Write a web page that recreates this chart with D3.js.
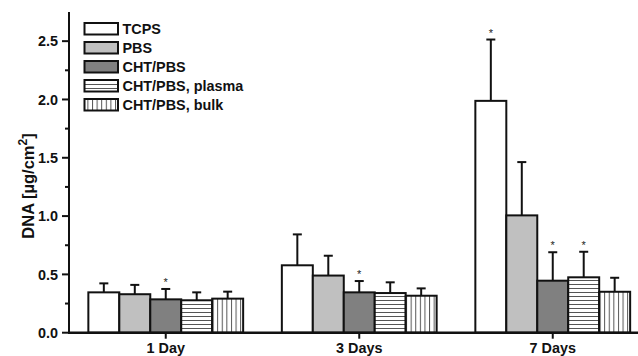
<!DOCTYPE html>
<html>
<head>
<meta charset="utf-8">
<script src="https://cdn.jsdelivr.net/npm/d3@7"></script>
<style>
  html, body { margin: 0; padding: 0; background: #fff; }
  svg { display: block; font-family: "Liberation Sans", Arial, sans-serif; font-weight: bold; }
</style>
</head>
<body>
<svg id="chart" width="638" height="356"></svg>
<script>
// DNA content per culture time and substrate
const days = ["1 Day", "3 Days", "7 Days"];
const groups = ["TCPS", "PBS", "CHT/PBS", "CHT/PBS, plasma", "CHT/PBS, bulk"];
const tcps       = [0.346, 0.578, 1.988];
const pbs        = [0.330, 0.490, 1.006];
const cht        = [0.286, 0.346, 0.446];
const chtPlasma  = [0.278, 0.340, 0.475];
const chtBulk    = [0.292, 0.317, 0.351];
const tcpsErr      = [0.077, 0.265, 0.526];
const pbsErr       = [0.080, 0.170, 0.457];
const chtErr       = [0.089, 0.097, 0.244];
const chtPlasmaErr = [0.068, 0.092, 0.219];
const chtBulkErr   = [0.060, 0.063, 0.120];
// significance markers (1 = asterisk)
const tcpsSig      = [0, 0, 1];
const pbsSig       = [0, 0, 0];
const chtSig       = [1, 1, 1];
const chtPlasmaSig = [0, 0, 1];
const chtBulkSig   = [0, 0, 0];
const yTicks = [0.0, 0.5, 1.0, 1.5, 2.0, 2.5];

const values = [tcps, pbs, cht, chtPlasma, chtBulk];
const errors = [tcpsErr, pbsErr, chtErr, chtPlasmaErr, chtBulkErr];
const sigs = [tcpsSig, pbsSig, chtSig, chtPlasmaSig, chtBulkSig];

const svg = d3.select("#chart");
const defs = svg.append("defs");

// stripe fills
const hp = defs.append("pattern").attr("id", "hstripe").attr("patternUnits", "userSpaceOnUse")
  .attr("width", 8).attr("height", 4);
hp.append("rect").attr("width", 8).attr("height", 4).attr("fill", "#fff");
hp.append("line").attr("x1", 0).attr("x2", 8).attr("y1", 0.5).attr("y2", 0.5)
  .attr("stroke", "#555").attr("stroke-width", 1);
const vp = defs.append("pattern").attr("id", "vstripe").attr("patternUnits", "userSpaceOnUse")
  .attr("width", 4.6).attr("height", 8);
vp.append("rect").attr("width", 4.6).attr("height", 8).attr("fill", "#fff");
vp.append("line").attr("x1", 0.5).attr("x2", 0.5).attr("y1", 0).attr("y2", 8)
  .attr("stroke", "#555").attr("stroke-width", 1);

const fills = ["#ffffff", "#c0c0c0", "#808080", "url(#hstripe)", "url(#vstripe)"];

const plotLeft = 69, plotBottom = 332.7, plotTop = 12;
const x0 = d3.scaleBand().domain(days).range([plotLeft, plotLeft + 580.5]).paddingInner(0.2).paddingOuter(0.1);
const x1 = d3.scaleBand().domain(groups).range([0, x0.bandwidth()]);
const y = d3.scaleLinear().domain([0, 2.75]).range([plotBottom, plotTop]);

// bars
days.forEach((day, di) => {
  const g = svg.append("g").attr("transform", `translate(${x0(day)},0)`);
  groups.forEach((grp, gi) => {
    const v = values[gi][di], e = errors[gi][di];
    const bx = x1(grp), bw = x1.bandwidth(), cx = bx + bw / 2;
    // error bar (upper only)
    g.append("line").attr("x1", cx).attr("x2", cx).attr("y1", y(v)).attr("y2", y(v + e))
      .attr("stroke", "#111").attr("stroke-width", 2);
    g.append("line").attr("x1", cx - 4.5).attr("x2", cx + 4.5).attr("y1", y(v + e)).attr("y2", y(v + e))
      .attr("stroke", "#111").attr("stroke-width", 2);
    g.append("rect").attr("x", bx).attr("y", y(v)).attr("width", bw).attr("height", y(0) - y(v))
      .attr("fill", fills[gi]).attr("stroke", "#111").attr("stroke-width", 2);
    if (sigs[gi][di]) {
      g.append("text").attr("x", cx).attr("y", y(v + e) - 3).attr("text-anchor", "middle")
        .attr("font-size", 11).attr("font-weight", "normal").attr("fill", "#222").text("*");
    }
  });
});

// y axis
const yAxis = svg.append("g").attr("transform", `translate(${plotLeft},0)`);
yAxis.append("line").attr("x1", 0).attr("x2", 0).attr("y1", plotTop).attr("y2", plotBottom)
  .attr("stroke", "#111").attr("stroke-width", 2);
d3.range(0, 2.75, 0.25).forEach(t => {
  const major = Math.abs(t / 0.5 - Math.round(t / 0.5)) < 1e-6;
  yAxis.append("line").attr("x1", major ? -7 : -4).attr("x2", 0).attr("y1", y(t)).attr("y2", y(t))
    .attr("stroke", "#111").attr("stroke-width", 2);
});
yAxis.selectAll("text.tick").data(yTicks).enter().append("text")
  .attr("x", -11).attr("y", d => y(d)).attr("dy", "0.36em").attr("text-anchor", "end")
  .attr("font-size", 14.4).attr("fill", "#111").text(d => d.toFixed(1));

// x axis
const xAxis = svg.append("g");
xAxis.append("line").attr("x1", plotLeft - 1).attr("x2", 638).attr("y1", plotBottom).attr("y2", plotBottom)
  .attr("stroke", "#111").attr("stroke-width", 2.5);
days.forEach(d => {
  const cx = x0(d) + x0.bandwidth() / 2;
  xAxis.append("line").attr("x1", cx).attr("x2", cx).attr("y1", plotBottom).attr("y2", plotBottom + 6)
    .attr("stroke", "#111").attr("stroke-width", 2);
  xAxis.append("text").attr("x", cx).attr("y", 352.5).attr("text-anchor", "middle")
    .attr("font-size", 14.4).attr("fill", "#111").text(d);
});

// y axis title
const yt = svg.append("text").attr("transform", "translate(34,186) rotate(-90)")
  .attr("text-anchor", "middle").attr("font-size", 16.5).attr("fill", "#111");
yt.append("tspan").text("DNA [µg/cm");
yt.append("tspan").attr("dy", -7).attr("font-size", 12).text("2");
yt.append("tspan").attr("dy", 7).text("]");

// legend
const legend = svg.append("g");
groups.forEach((grp, i) => {
  const ly = 23 + i * 19;
  legend.append("rect").attr("x", 84.5).attr("y", ly).attr("width", 33.5).attr("height", 11.5)
    .attr("fill", fills[i]).attr("stroke", "#111").attr("stroke-width", 2);
  legend.append("text").attr("x", 122.5).attr("y", ly + 6).attr("dy", "0.36em")
    .attr("font-size", 14.4).attr("fill", "#111").text(grp);
});
</script>
</body>
</html>
